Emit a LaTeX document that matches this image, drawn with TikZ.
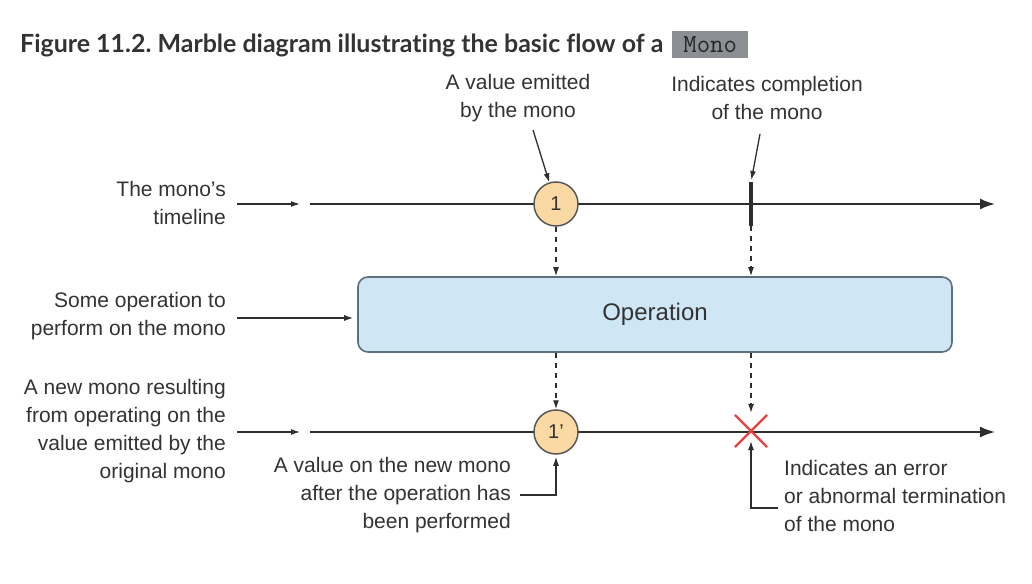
\documentclass[tikz,border=0pt]{standalone}
\usepackage{fontspec}
\setmainfont{Liberation Sans}
\newfontfamily\titlefont{Lato}[Ligatures=NoCommon]
\usetikzlibrary{arrows.meta,shapes.misc,calc}
\frenchspacing
\definecolor{txt}{HTML}{333333}
\definecolor{linec}{HTML}{2E2E2E}
\definecolor{marblefill}{HTML}{FBD9A4}
\definecolor{opfill}{HTML}{CFE6F5}
\definecolor{opline}{HTML}{5E7078}
\definecolor{monogray}{HTML}{8C9094}
\definecolor{xred}{HTML}{E8433E}
\tikzset{
  lab/.style={inner sep=0, text=txt, font=\fontsize{21bp}{28bp}\selectfont},
  thinarrow/.style={draw=linec, line width=1.3bp, -{Latex[length=9bp,width=6bp]}},
  timeline/.style={draw=linec, line width=2bp, -{Latex[length=15bp,width=11bp]}},
  tickline/.style={draw=linec, line width=3.2bp},
  annot/.style={draw=linec, line width=1.3bp, -{Latex[length=9bp,width=6bp]}},
  dasharrow/.style={draw=linec, line width=1.3bp, dash pattern=on 5bp off 5bp, -{Latex[length=9bp,width=6bp]}},
  marble/.style={circle, draw=linec!80, line width=1.5bp, fill=marblefill, minimum size=44bp, inner sep=0, text=txt, font=\fontsize{20bp}{22bp}\selectfont},
  opbox/.style={draw=opline, line width=1.6bp, fill=opfill, rounded corners=10bp, minimum width=594bp, minimum height=75bp, text=txt, font=\fontsize{24bp}{26bp}\selectfont},
}
\begin{document}
\begin{tikzpicture}[x=1bp,y=-1bp]
\useasboundingbox[fill=white] (0,0) rectangle (1032,584);

% title
\node[anchor=base west, inner sep=0, text=txt, font=\titlefont\bfseries\fontsize{24.95bp}{30bp}\selectfont] (title) at (20,53) {Figure 11.2. Marble diagram illustrating the basic flow of a};
\node[anchor=west, fill=monogray, inner sep=0, minimum width=76bp, minimum height=27bp, text=black!85, font=\ttfamily\fontsize{26bp}{28bp}\selectfont] (mono) at (672,44.5) {Mono};

% top timeline
\coordinate (l1s) at (237,204); \coordinate (l1e) at (300,204);
\coordinate (t1s) at (310,204); \coordinate (t1e) at (995,204);
\coordinate (tickT) at (751,182); \coordinate (tickB) at (751,226);
\draw[thinarrow] (l1s) -- (l1e);
\draw[timeline] (t1s) -- (t1e);
\draw[tickline] (tickT) -- (tickB);
\node[marble] (c1) at (556,204) {1};

\node[lab, align=center] (lv) at (518,98) {A value emitted\\by the mono};
\node[lab, align=center] (lc) at (767,98) {Indicates completion\\of the mono};
\coordinate (a1) at (533,130);
\draw[annot] (a1) -- (c1);
\coordinate (a2) at (760,134);
\draw[annot, shorten >=2bp] (a2) -- (tickT);

\node[lab, align=right, anchor=east] (lt) at (226,203) {The mono’s\\timeline};

% operation
\node[opbox] (op) at (655,314.5) {Operation};
\draw[dasharrow] (c1.south) -- (c1.south |- op.north);
\draw[dasharrow] (tickB) -- (tickB |- op.north);

\node[lab, align=right, anchor=east] (ls) at (226,316) {Some operation to\\perform on the mono};
\coordinate (sop) at (237,318);
\draw[thinarrow, shorten >=4bp] (sop) -- (sop -| op.west);

% bottom timeline
\coordinate (l2s) at (237,432); \coordinate (l2e) at (300,432);
\coordinate (t2s) at (310,432); \coordinate (t2e) at (995,432);
\draw[thinarrow] (l2s) -- (l2e);
\draw[timeline] (t2s) -- (t2e);
\node[cross out, draw=xred, line width=2.2bp, minimum size=30bp, inner sep=0] (xm) at (751,431) {};
\node[marble] (c2) at (556,432) {1'};
\draw[dasharrow] (op.south -| c2) -- (c2.north);
\draw[dasharrow, shorten >=2bp] (op.south -| xm) -- (xm.north);

\node[lab, align=right, anchor=east] (ln) at (226,431) {A new mono resulting\\from operating on the\\value emitted by the\\original mono};

\node[lab, align=right, anchor=east] (lnv) at (511,495) {A value on the new mono\\after the operation has\\been performed};
\coordinate (b1) at (520,495);
\draw[annot, shorten >=2bp] (b1) -| (c2.south);

\node[lab, align=left, anchor=west] (le) at (784,496) {Indicates an error\\or abnormal termination\\of the mono};
\coordinate (b2) at (778,508);
\draw[annot] (b2) -| ($(xm.center)+(0,10)$);
\end{tikzpicture}
\end{document}
